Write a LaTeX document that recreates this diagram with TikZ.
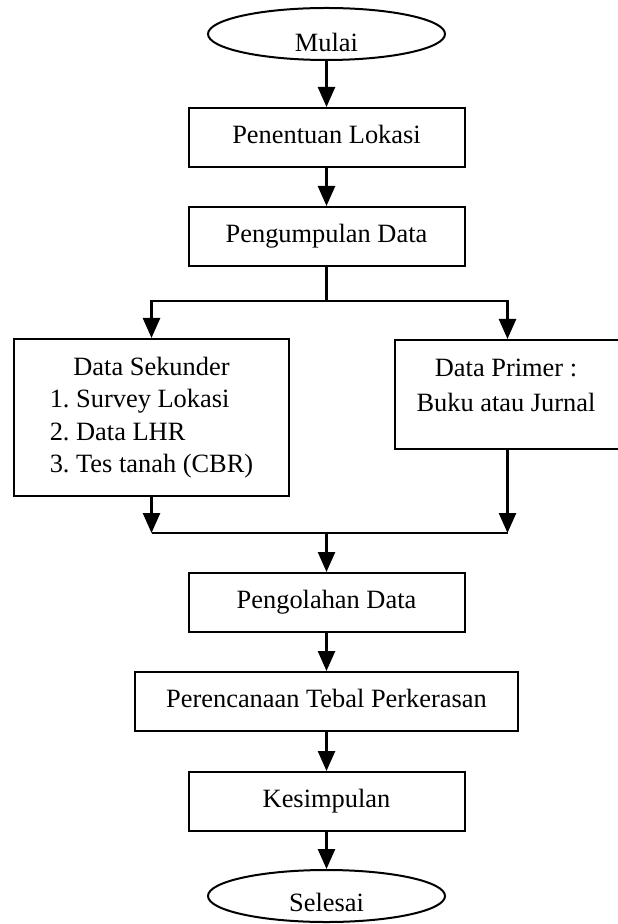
\documentclass[tikz,border=0pt]{standalone}
\usepackage{fontspec}
\setmainfont{Liberation Serif}
\usetikzlibrary{arrows.meta,shapes.geometric}

\begin{document}
\begin{tikzpicture}[x=0.5pt,y=-0.5pt,
    every node/.style={font=\fontsize{13.2pt}{16.25pt}\selectfont},
    kotak/.style={draw,line width=1pt,inner sep=0pt},
    proses/.style={kotak,minimum width=138pt,minimum height=29.5pt,text height=9.2pt,text depth=3.3pt},
    oval/.style={draw,line width=1pt,ellipse,inner sep=0pt,minimum width=118.5pt,minimum height=26pt},
    garis/.style={line width=1.3pt},
    panah/.style={garis,-{Triangle[length=10pt,width=8.5pt]}}]
  \useasboundingbox (0,0) rectangle (617,924);
  \node[oval] (mulai) at (326.5,34) {};
  \node[anchor=base] (tmulai) at (326.5,52) {Mulai};
  \node[proses] (lokasi) at (326.5,137.5) {Penentuan Lokasi};
  \node[proses] (data) at (326.5,236.5) {Pengumpulan Data};
  \node[kotak,minimum width=137.5pt,minimum height=78.5pt] (sekunder) at (151.5,417.5)
    {\begin{tabular}{@{}l@{}}\multicolumn{1}{c}{Data Sekunder}\\1.\ Survey Lokasi\\2.\ Data LHR\\3.\ Tes tanah (CBR)\end{tabular}};
  \node[kotak,minimum width=112.5pt,minimum height=54.5pt] (primer) at (507.5,394.5) {};
  \node[align=center] (tprimer) at (506,385) {Data Primer :\\[1.25pt]Buku atau Jurnal};
  \node[proses] (olah) at (326.5,602.5) {Pengolahan Data};
  \node[proses,minimum width=191.5pt] (rencana) at (326.5,701.5) {Perencanaan Tebal Perkerasan};
  \node[proses] (simpul) at (326.5,801.5) {Kesimpulan};
  \node[oval] (selesai) at (326.5,896) {};
  \node[anchor=base] (tselesai) at (326.5,911) {Selesai};
  \coordinate (cabang) at (326.5,301);
  \coordinate (gabung) at (326.5,533);
  \coordinate (kiri) at (sekunder.south |- gabung);
  \coordinate (kanan) at (primer.south |- gabung);
  \draw[panah] (mulai.south) -- (lokasi.north);
  \draw[panah] (lokasi.south) -- (data.north);
  \draw[garis] (data.south) -- (cabang);
  \draw[panah] (cabang) -| (sekunder.north);
  \draw[panah] (cabang) -| (primer.north);
  \draw[panah] (sekunder.south) -- (kiri);
  \draw[panah] (primer.south) -- (kanan);
  \draw[garis] (kiri) -- (kanan);
  \draw[panah] (gabung) -- (olah.north);
  \draw[panah] (olah.south) -- (rencana.north);
  \draw[panah] (rencana.south) -- (simpul.north);
  \draw[panah] (simpul.south) -- (selesai.north);
\end{tikzpicture}
\end{document}
